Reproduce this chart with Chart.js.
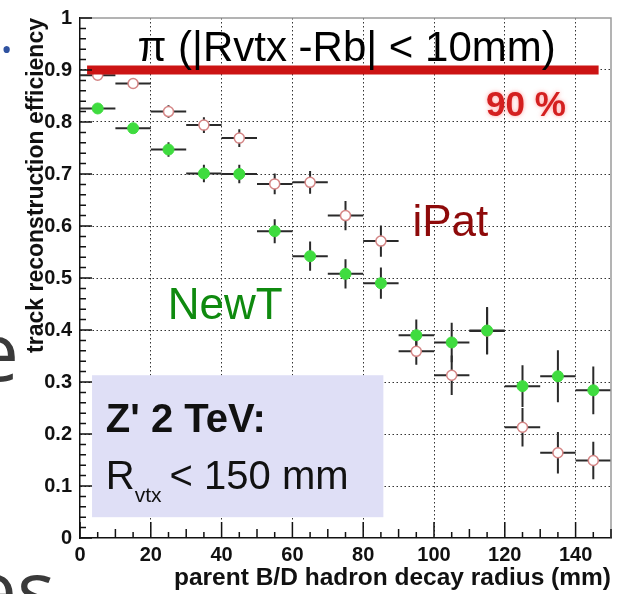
<!DOCTYPE html>
<html>
<head>
<meta charset="utf-8">
<script src="https://cdn.jsdelivr.net/npm/chart.js@4.4.0/dist/chart.umd.min.js"></script>
<style>
  html, body { margin: 0; padding: 0; background: #fff; overflow: hidden; }
  #wrap { position: relative; width: 628px; height: 594px; overflow: hidden; }
  #eff { position: absolute; left: 0; top: 0; }
  .frag { position: absolute; font-family: "Open Sans", sans-serif; color: #3a3a3a; line-height: 1; white-space: nowrap; }
</style>
</head>
<body>
<div id="wrap">
  <canvas id="eff" width="628" height="594"></canvas>
  <div class="frag" style="left:1px; top:34px; font-size:30px; color:#2f52a0;">•</div>
  <div class="frag" style="left:-26px; top:310px; font-size:80px;">e</div>
  <div class="frag" style="left:-28px; top:548px; font-size:80px;">es</div>
</div>
<script>
// bins in parent decay radius (mm)
const binCenters = [5, 15, 25, 35, 45, 55, 65, 75, 85, 95, 105, 115, 125, 135, 145];
const binHalfWidth = 5;

// NewT efficiency and stat. errors
const newtEff = [0.826, 0.788, 0.747, 0.701, 0.700, 0.590, 0.542, 0.508, 0.490, 0.390, 0.376, 0.399, 0.292, 0.311, 0.284];
const newtErr = [0.005, 0.008, 0.014, 0.017, 0.018, 0.023, 0.028, 0.028, 0.030, 0.030, 0.038, 0.045, 0.040, 0.050, 0.046];

// iPat efficiency and stat. errors
const ipatEff = [0.890, 0.874, 0.820, 0.794, 0.769, 0.681, 0.684, 0.620, 0.571, 0.359, 0.313, 0.398, 0.213, 0.164, 0.149];
const ipatErr = [0.005, 0.006, 0.012, 0.015, 0.017, 0.020, 0.022, 0.028, 0.030, 0.026, 0.038, 0.045, 0.037, 0.040, 0.036];

// 90 % reference line
const targetEff = 0.9;
const targetRange = [2, 146.5];

const xTickValues = [0, 20, 40, 60, 80, 100, 120, 140];

const FONT = 'Liberation Sans, Arial, sans-serif';

function points(vals) {
  return binCenters.map((x, i) => ({ x, y: vals[i] }));
}

// horizontal bin width + vertical error bars, drawn under the markers
const errorBars = {
  id: 'errorBars',
  beforeDatasetsDraw(chart) {
    const { ctx, scales: { x, y } } = chart;
    ctx.save();
    ctx.lineWidth = 2;
    chart.data.datasets.forEach((ds) => {
      if (!ds.errors) return;
      ctx.strokeStyle = ds.errorColor;
      ds.data.forEach((p, i) => {
        const px = x.getPixelForValue(p.x);
        const py = y.getPixelForValue(p.y);
        ctx.beginPath();
        ctx.moveTo(x.getPixelForValue(p.x - binHalfWidth), py);
        ctx.lineTo(x.getPixelForValue(p.x + binHalfWidth), py);
        ctx.moveTo(px, y.getPixelForValue(p.y - ds.errors[i]));
        ctx.lineTo(px, y.getPixelForValue(p.y + ds.errors[i]));
        ctx.stroke();
      });
    });
    ctx.restore();
  }
};

// ROOT-style frame with ticks pointing inwards
const frame = {
  id: 'frame',
  afterDraw(chart) {
    const { ctx, chartArea: a, scales: { x, y } } = chart;
    ctx.save();
    ctx.strokeStyle = '#9a9a9a';
    ctx.lineWidth = 1.5;
    ctx.beginPath();
    ctx.moveTo(a.left, a.top);
    ctx.lineTo(a.right, a.top);
    ctx.lineTo(a.right, a.bottom);
    ctx.stroke();

    ctx.strokeStyle = '#111';
    ctx.lineWidth = 1.5;
    ctx.beginPath();
    for (let i = 0; i <= 50; i++) {
      const py = y.getPixelForValue(i / 50);
      const len = i % 5 === 0 ? 12 : 6;
      ctx.moveTo(a.left, py);
      ctx.lineTo(a.left + len, py);
    }
    for (let v = 0; v <= 150; v += 5) {
      const px = x.getPixelForValue(v);
      const len = v % 20 === 0 ? 16 : (v % 10 === 0 ? 9 : 6);
      ctx.moveTo(px, a.bottom);
      ctx.lineTo(px, a.bottom - len);
    }
    ctx.stroke();
    ctx.restore();
  }
};

// labels and the info box inside the pad
const annotations = {
  id: 'annotations',
  afterDatasetsDraw(chart) {
    const { ctx, scales: { x, y } } = chart;
    ctx.save();
    ctx.textBaseline = 'alphabetic';
    ctx.textAlign = 'left';

    // info box
    const bx0 = x.getPixelForValue(3.4), bx1 = x.getPixelForValue(85.7);
    const by0 = y.getPixelForValue(0.313), by1 = y.getPixelForValue(0.040);
    ctx.fillStyle = '#dfdff6';
    ctx.fillRect(bx0, by0, bx1 - bx0, by1 - by0);

    ctx.fillStyle = '#111';
    ctx.font = `bold 40px ${FONT}`;
    ctx.fillText("Z' 2 TeV:", x.getPixelForValue(7.3), y.getPixelForValue(0.203));

    let tx = x.getPixelForValue(7.3);
    const ty = y.getPixelForValue(0.095);
    ctx.font = `40px ${FONT}`;
    ctx.fillText('R', tx, ty);
    tx += ctx.measureText('R').width;
    ctx.font = `21px ${FONT}`;
    ctx.fillText('vtx', tx, ty + 13);
    tx += ctx.measureText('vtx').width + 8;
    ctx.font = `40px ${FONT}`;
    ctx.fillText('< 150 mm', tx, ty);

    // header
    ctx.fillStyle = '#000';
    ctx.font = `42px ${FONT}`;
    ctx.textAlign = 'center';
    ctx.fillText('\u03c0 (|Rvtx -Rb| < 10mm)', x.getPixelForValue(75.3), y.getPixelForValue(0.9165));
    ctx.textAlign = 'left';

    // 90 % tag
    ctx.save();
    ctx.shadowColor = 'rgba(255,120,120,0.7)';
    ctx.shadowBlur = 4;
    ctx.fillStyle = '#d42020';
    ctx.font = `bold 35px ${FONT}`;
    ctx.fillText('90 %', x.getPixelForValue(114.7), y.getPixelForValue(0.812));
    ctx.restore();

    // series names
    ctx.font = `44px ${FONT}`;
    ctx.fillStyle = '#8e0a0a';
    ctx.fillText('iPat', x.getPixelForValue(93.9), y.getPixelForValue(0.581));
    ctx.fillStyle = '#0f8a0f';
    ctx.fillText('NewT', x.getPixelForValue(24.8), y.getPixelForValue(0.421));
    ctx.restore();
  }
};

const ctx = document.getElementById('eff').getContext('2d');

new Chart(ctx, {
  data: {
    datasets: [
      {
        type: 'line',
        label: '90 %',
        data: [{ x: targetRange[0], y: targetEff }, { x: targetRange[1], y: targetEff }],
        borderColor: '#cc1414',
        borderWidth: 9,
        borderCapStyle: 'butt',
        pointRadius: 0,
        order: 0,
      },
      {
        type: 'scatter',
        label: 'NewT',
        data: points(newtEff),
        errors: newtErr,
        errorColor: '#2a2a2a',
        pointRadius: 5.5,
        pointBackgroundColor: '#3fdc3f',
        pointBorderColor: '#3fdc3f',
        pointBorderWidth: 1,
        order: 1,
      },
      {
        type: 'scatter',
        label: 'iPat',
        data: points(ipatEff),
        errors: ipatErr,
        errorColor: '#2a2a2a',
        pointRadius: 5,
        pointBackgroundColor: '#ffffff',
        pointBorderColor: '#d48585',
        pointBorderWidth: 1.5,
        order: 2,
      },
    ],
  },
  options: {
    responsive: false,
    animation: false,
    layout: { padding: { top: 11, right: 17, left: 0, bottom: 0 } },
    plugins: { legend: { display: false }, tooltip: { enabled: false } },
    scales: {
      x: {
        type: 'linear',
        min: 0,
        max: 150,
        afterBuildTicks: (s) => { s.ticks = xTickValues.map((v) => ({ value: v })); },
        afterFit: (s) => { s.height = 56; },
        grid: {
          drawTicks: false,
          color: (c) => (c.tick && c.tick.value === 0 ? 'rgba(0,0,0,0)' : '#333'),
          lineWidth: 1,
        },
        border: { color: '#111', width: 1.5, dash: [1.5, 2.5] },
        ticks: {
          autoSkip: false,
          maxRotation: 0,
          padding: 7,
          color: '#111',
          font: { family: FONT, weight: 'bold', size: 20, lineHeight: 1 },
        },
        title: {
          display: true,
          text: 'parent B/D hadron decay radius (mm)',
          align: 'end',
          color: '#111',
          padding: { top: 0, bottom: 1 },
          font: { family: FONT, weight: 'bold', size: 24.5 },
        },
      },
      y: {
        type: 'linear',
        min: 0,
        max: 1,
        afterFit: (s) => { s.width = 80; },
        grid: {
          drawTicks: false,
          color: (c) => (c.tick && (c.tick.value === 0 || c.tick.value === 1) ? 'rgba(0,0,0,0)' : '#333'),
          lineWidth: 1,
        },
        border: { color: '#111', width: 1.5, dash: [1.5, 2.5] },
        ticks: {
          stepSize: 0.1,
          padding: 8,
          color: '#111',
          font: { family: FONT, weight: 'bold', size: 20, lineHeight: 1 },
          callback: (v) => (v === 0 || v === 1 ? String(v) : v.toFixed(1)),
        },
        title: {
          display: true,
          text: 'track reconstruction efficiency',
          align: 'end',
          color: '#111',
          padding: { top: 23, bottom: 0 },
          font: { family: FONT, weight: 'bold', size: 23 },
        },
      },
    },
  },
  plugins: [errorBars, annotations, frame],
});
</script>
</body>
</html>
